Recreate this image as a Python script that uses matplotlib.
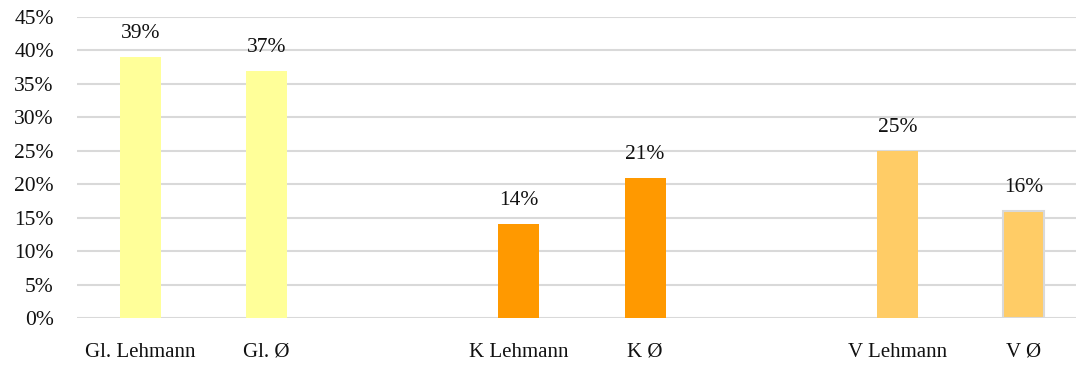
import matplotlib.pyplot as plt

# slot positions leave empty gaps between groups
categories = ['Gl. Lehmann', 'Gl. Ø', 'K Lehmann', 'K Ø', 'V Lehmann', 'V Ø']
slots = [0, 1, 3, 4, 6, 7]
values = [39, 37, 14, 21, 25, 16]
colors = ['#FFFF99', '#FFFF99', '#FF9900', '#FF9900', '#FFCC66', '#FFCC66']
edges = ['none', 'none', 'none', 'none', 'none', '#D9D9D9']
yticks = [0, 5, 10, 15, 20, 25, 30, 35, 40, 45]

plt.rcParams['font.family'] = ['Liberation Serif', 'DejaVu Serif']

fig = plt.figure(figsize=(10.76, 3.67), dpi=100)
ax = fig.add_axes([0.0719, 0.1335, 1 - 0.0719, 0.9537 - 0.1335])

ax.set_axisbelow(True)
ax.yaxis.grid(True, color='#D9D9D9', linewidth=1.5)
for s in ax.spines.values():
    s.set_visible(False)

for x, v, c, e in zip(slots, values, colors, edges):
    ax.bar(x, v, width=0.325, color=c, edgecolor=e, linewidth=1.5 if e != 'none' else 0)
    ax.annotate(f'{v}%', (x, v), xytext=(0, 10), textcoords='offset points',
                ha='center', va='bottom', fontsize=15.5, color='#111111')

ax.set_xlim(-0.5, 7.416)
ax.set_ylim(0, 45)
ax.set_yticks(yticks)
ax.set_yticklabels([f'{t}%' for t in yticks], fontsize=15.5, color='#111111')
ax.set_xticks(slots)
ax.set_xticklabels(categories, fontsize=15, color='#111111', va='baseline')
ax.tick_params(axis='y', length=0, pad=17)
ax.tick_params(axis='x', length=0, pad=28)

fig.savefig('out.png', dpi=100)
